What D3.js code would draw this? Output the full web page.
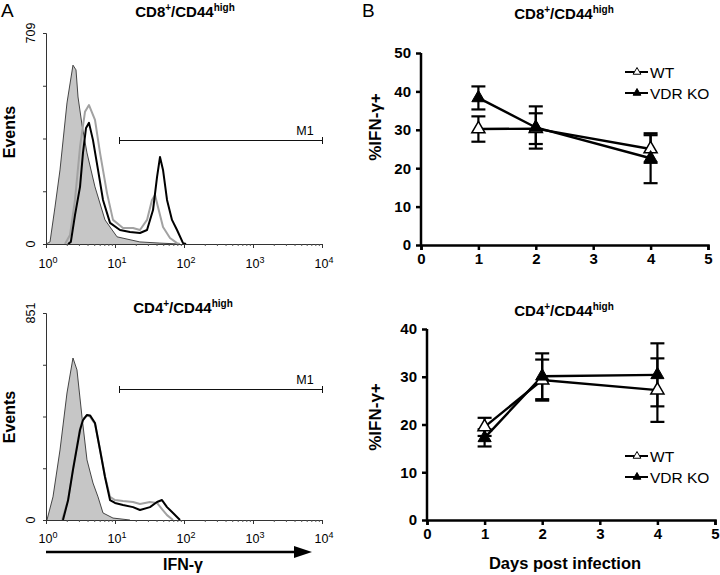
<!DOCTYPE html>
<html><head><meta charset="utf-8">
<script src="https://cdn.jsdelivr.net/npm/d3@7"></script>
<style>body{margin:0;background:#fff} svg{display:block} text{font-family:"Liberation Sans",Arial,sans-serif}</style>
</head><body><svg id="c" width="720" height="575"></svg>
<script>
// ---------- Panel A data: [log10 intensity, events] ----------
const cd8Isotype = [[0,0],[0.058,7],[0.13,124],[0.203,249],[0.304,474],[0.391,601],[0.435,585],[0.464,494],[0.522,400],[0.594,306],[0.71,192],[0.855,81],[1.03,24],[1.36,7],[1.65,3],[1.94,0]];
const cd8Black = [[0.319,0],[0.36,7],[0.42,97],[0.493,192],[0.536,306],[0.58,390],[0.623,407],[0.681,349],[0.754,249],[0.826,148],[0.928,71],[1.072,47],[1.217,40],[1.362,37],[1.464,47],[1.551,114],[1.609,225],[1.652,292],[1.696,249],[1.754,148],[1.826,81],[1.899,47],[1.986,3],[2.03,0]];
const cd8Gray = [[0.275,0],[0.348,30],[0.42,148],[0.493,326],[0.565,444],[0.623,467],[0.71,417],[0.783,306],[0.884,171],[0.971,81],[1.116,54],[1.261,54],[1.362,47],[1.464,81],[1.536,148],[1.58,165],[1.623,124],[1.696,57],[1.797,20],[1.899,3],[1.94,0]];
const cd4Isotype = [[0,0],[0.014,0],[0.101,95],[0.203,288],[0.304,522],[0.391,666],[0.449,617],[0.522,423],[0.594,247],[0.681,152],[0.754,95],[0.826,29],[0.971,8],[1.217,0]];
const cd4Black = [[0.246,0],[0.319,80],[0.391,206],[0.493,370],[0.536,411],[0.594,432],[0.638,430],[0.71,399],[0.783,288],[0.855,177],[0.928,82],[1.0,70],[1.116,62],[1.261,53],[1.362,41],[1.507,53],[1.609,74],[1.681,82],[1.754,53],[1.841,29],[1.942,0]];
const cd4Gray = [[0.232,0],[0.319,80],[0.391,210],[0.493,375],[0.536,415],[0.594,430],[0.638,425],[0.71,395],[0.783,290],[0.855,180],[0.928,95],[1.0,82],[1.116,78],[1.261,74],[1.362,66],[1.507,74],[1.609,70],[1.681,45],[1.754,20],[1.841,0]];
const cd8MaxEvents = 709, cd4MaxEvents = 851;
const markerM1 = [11.5, 10000];
const decadeTicks = [1, 10, 100, 1000, 10000];

// ---------- Panel B data ----------
const days = [1, 2, 4];
const cd8WT = [30.2, 30.3, 25.0], cd8WTerr = [3.3, 4.0, 3.6];
const cd8KO = [38.3, 30.6, 22.6], cd8KOerr = [3.0, 5.5, 6.5];
const cd4WT = [19.5, 29.3, 27.2], cd4WTerr = [1.9, 4.3, 6.65];
const cd4KO = [17.2, 30.1, 30.4], cd4KOerr = [1.8, 4.8, 6.6];
const dayTicks = [0, 1, 2, 3, 4, 5];
const cd8YTicks = [0, 10, 20, 30, 40, 50];
const cd4YTicks = [0, 10, 20, 30, 40];
const seriesNames = ["WT", "VDR KO"];

const svg = d3.select("#c");
const FONT = '"Liberation Sans",Arial,sans-serif';

function supText(g, x, y, base, sup, size, anchor, weight) {
  const t = g.append("text").attr("x", x).attr("y", y).attr("text-anchor", anchor || "middle")
    .attr("font-size", size).attr("font-weight", weight || "normal").attr("fill", "#000");
  t.append("tspan").text(base);
  t.append("tspan").attr("dy", -size * 0.42).attr("font-size", size * 0.72).text(sup);
  return t;
}
function titleText(x, y, a) {
  const t = svg.append("text").attr("x", x).attr("y", y).attr("text-anchor", "middle")
    .attr("font-size", 15).attr("font-weight", "bold");
  t.append("tspan").text(a);
  t.append("tspan").attr("dy", -6).attr("font-size", 10).text("+");
  t.append("tspan").attr("dy", 6).text("/CD44");
  t.append("tspan").attr("dy", -6).attr("font-size", 10).text("high");
}

// ---------- Panel A ----------
function histPanel(opts) {
  const x = d3.scaleLog().domain([1, 10000]).range([46, 322]);
  const y = d3.scaleLinear().domain([0, opts.max]).range([opts.y0, opts.y1]);
  const g = svg.append("g");
  const line = d3.line().x(d => x(Math.pow(10, d[0]))).y(d => y(d[1]));
  const area = d3.area().x(d => x(Math.pow(10, d[0]))).y0(y(0)).y1(d => y(d[1]));
  g.append("path").datum(opts.iso).attr("d", area).attr("fill", "#c6c6c6").attr("stroke", "none");
  g.append("path").datum(opts.iso).attr("d", line).attr("fill", "none").attr("stroke", "#333").attr("stroke-width", 0.9);
  g.append("path").datum(opts.gray).attr("d", line).attr("fill", "none").attr("stroke", "#a2a2a2").attr("stroke-width", 2).attr("stroke-linejoin", "round");
  g.append("path").datum(opts.black).attr("d", line).attr("fill", "none").attr("stroke", "#000").attr("stroke-width", 2).attr("stroke-linejoin", "round");

  // axes
  const minor = [];
  for (let k = 0; k < 4; k++) for (let m = 2; m <= 9; m++) minor.push(m * Math.pow(10, k));
  const ax = g.append("g").attr("transform", `translate(0,${y(0)})`);
  ax.call(d3.axisBottom(x).tickValues(decadeTicks).tickSize(4).tickFormat(""));
  ax.select(".domain").attr("stroke", "#333");
  ax.selectAll(".tick line").attr("stroke", "#333");
  const mx = g.append("g").attr("transform", `translate(0,${y(0)})`);
  mx.call(d3.axisBottom(x).tickValues(minor).tickSize(2).tickFormat(""));
  mx.select(".domain").remove();
  mx.selectAll(".tick line").attr("stroke", "#555");
  decadeTicks.forEach((v, i) => supText(g, x(v) + 2, opts.labY, "10", String(i), 12.5, "middle"));

  const ay = g.append("g").attr("transform", "translate(46,0)");
  ay.call(d3.axisLeft(y).tickValues([0, 1, 2, 3, 4].map(k => opts.max * k / 4)).tickSize(3).tickFormat(""));
  ay.select(".domain").attr("stroke", "#333");
  ay.selectAll(".tick line").attr("stroke", "#333");
  [0, opts.max].forEach(v => {
    g.append("text").attr("transform", `translate(35,${y(v)}) rotate(-90)`).attr("text-anchor", "middle")
      .attr("font-size", 12.5).text(v);
  });
  g.append("text").attr("transform", `translate(15,${opts.evY}) rotate(-90)`).attr("text-anchor", "middle")
    .attr("font-size", 16).attr("font-weight", "bold").text("Events");

  // M1 marker
  const my = opts.m1Y;
  g.append("line").attr("x1", x(markerM1[0])).attr("x2", x(markerM1[1])).attr("y1", my).attr("y2", my).attr("stroke", "#111").attr("stroke-width", 1);
  markerM1.forEach(v => g.append("line").attr("x1", Math.round(x(v)) + 0.5).attr("x2", Math.round(x(v)) + 0.5).attr("y1", my - 3.5).attr("y2", my + 3.5).attr("stroke", "#111").attr("stroke-width", 1));
  g.append("text").attr("x", 305).attr("y", my - 6).attr("text-anchor", "middle").attr("font-size", 12.5).text("M1");
}

histPanel({iso: cd8Isotype, gray: cd8Gray, black: cd8Black, max: cd8MaxEvents, y0: 244, y1: 33, labY: 268, evY: 132, m1Y: 140.5});
histPanel({iso: cd4Isotype, gray: cd4Gray, black: cd4Black, max: cd4MaxEvents, y0: 520, y1: 313, labY: 543, evY: 417, m1Y: 389.5});

titleText(185, 17, "CD8");
titleText(183, 313, "CD4");
svg.append("text").attr("x", 1).attr("y", 17).attr("font-size", 19).text("A");

// IFN-γ arrow
svg.append("line").attr("x1", 46).attr("x2", 296).attr("y1", 552).attr("y2", 552).attr("stroke", "#000").attr("stroke-width", 2.4);
svg.append("path").attr("d", "M294,546 L312,552 L294,558 Z").attr("fill", "#000");
svg.append("text").attr("x", 183).attr("y", 570).attr("text-anchor", "middle").attr("font-size", 16).attr("font-weight", "bold").text("IFN-γ");

// ---------- Panel B ----------
function linePanel(opts) {
  const x = d3.scaleLinear().domain([0, 5]).range([opts.x0, opts.x1]);
  const y = d3.scaleLinear().domain([0, opts.ymax]).range([opts.y0, opts.y1]);
  const g = svg.append("g");
  const ax = g.append("g").attr("transform", `translate(0,${opts.y0})`)
    .call(d3.axisBottom(x).tickValues(dayTicks).tickSize(5).tickPadding(3).tickFormat(d3.format("d")));
  const ay = g.append("g").attr("transform", `translate(${opts.x0},0)`)
    .call(d3.axisLeft(y).tickValues(opts.yticks).tickSize(5).tickPadding(5).tickFormat(d3.format("d")));
  [ax, ay].forEach(a => {
    a.select(".domain").attr("stroke", "#000").attr("stroke-width", 2.5);
    a.selectAll(".tick line").attr("stroke", "#000").attr("stroke-width", 2.5);
    a.selectAll(".tick text").attr("font-family", FONT).attr("font-size", 15).attr("font-weight", "bold").attr("fill", "#000");
  });
  ay.select(".domain").attr("d", `M0,${opts.y0 + 1}V${opts.y1}`);

  const ln = d3.line().x((d, i) => x(days[i])).y(d => y(d));
  [opts.ko, opts.wt].forEach(s => g.append("path").datum(s).attr("d", ln).attr("fill", "none").attr("stroke", "#000").attr("stroke-width", 2.4));
  [[opts.wt, opts.wtErr], [opts.ko, opts.koErr]].forEach(([vals, errs]) => {
    vals.forEach((v, i) => {
      const cx = x(days[i]), hi = y(v + errs[i]), lo = y(v - errs[i]);
      g.append("line").attr("x1", cx).attr("x2", cx).attr("y1", hi).attr("y2", lo).attr("stroke", "#000").attr("stroke-width", 2.2);
      [hi, lo].forEach(yy => g.append("line").attr("x1", cx - 7).attr("x2", cx + 7).attr("y1", yy).attr("y2", yy).attr("stroke", "#000").attr("stroke-width", 2.2));
    });
  });
  const tri = d3.symbol().type(d3.symbolTriangle).size(75);
  opts.wt.forEach((v, i) => g.append("path").attr("d", tri).attr("transform", `translate(${x(days[i])},${y(v)})`).attr("fill", "#fff").attr("stroke", "#000").attr("stroke-width", 1.5));
  opts.ko.forEach((v, i) => g.append("path").attr("d", tri).attr("transform", `translate(${x(days[i])},${y(v)})`).attr("fill", "#000").attr("stroke", "#000").attr("stroke-width", 1));

  g.append("text").attr("transform", `translate(381,${opts.labY}) rotate(-90)`).attr("text-anchor", "middle")
    .attr("font-size", 17).attr("font-weight", "bold").text("%IFN-γ+");

  // legend
  const small = d3.symbol().type(d3.symbolTriangle).size(26);
  seriesNames.forEach((name, i) => {
    const ly = opts.legY + i * 21;
    g.append("line").attr("x1", 625).attr("x2", 648).attr("y1", ly).attr("y2", ly).attr("stroke", "#000").attr("stroke-width", 2);
    g.append("path").attr("d", small).attr("transform", `translate(637,${ly})`)
      .attr("fill", i === 0 ? "#fff" : "#000").attr("stroke", "#000").attr("stroke-width", 1);
    g.append("text").attr("x", 650).attr("y", ly + 5.5).attr("font-size", 15.5).text(name);
  });
}

linePanel({x0: 421, x1: 708, y0: 245, y1: 53, ymax: 50, yticks: cd8YTicks, wt: cd8WT, wtErr: cd8WTerr, ko: cd8KO, koErr: cd8KOerr, labY: 127, legY: 72});
linePanel({x0: 427, x1: 715, y0: 520, y1: 329, ymax: 40, yticks: cd4YTicks, wt: cd4WT, wtErr: cd4WTerr, ko: cd4KO, koErr: cd4KOerr, labY: 417, legY: 456});

titleText(564, 19, "CD8");
titleText(564, 316, "CD4");
svg.append("text").attr("x", 362).attr("y", 17).attr("font-size", 19).text("B");
svg.append("text").attr("x", 565).attr("y", 569).attr("text-anchor", "middle").attr("font-size", 16.5).attr("font-weight", "bold").text("Days post infection");
</script></body></html>
